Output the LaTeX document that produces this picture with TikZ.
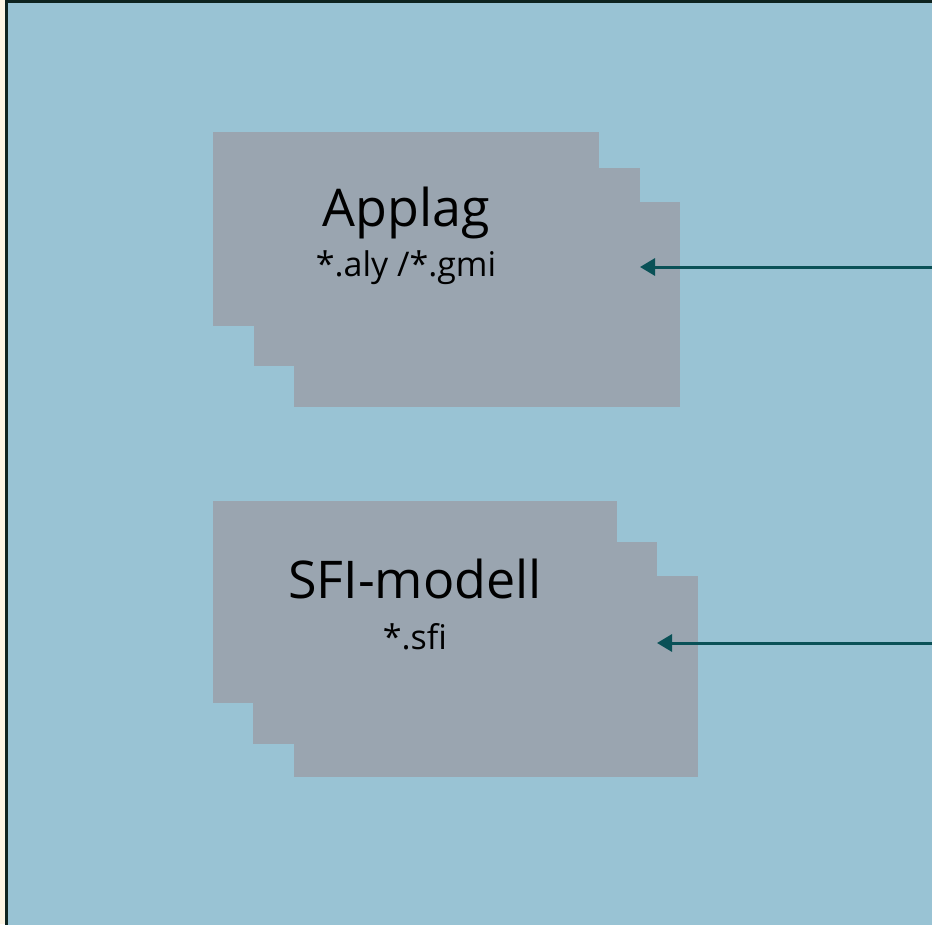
\documentclass[tikz,border=0pt]{standalone}
\usepackage{fontspec}
\setmainfont{Open Sans}
\usetikzlibrary{arrows.meta}
\definecolor{cream}{HTML}{FDF5E4}
\definecolor{bgblue}{HTML}{99C3D4}
\definecolor{framedark}{HTML}{0E2320}
\definecolor{boxgray}{HTML}{9AA5B0}
\definecolor{arrowteal}{HTML}{0A5157}
\begin{document}
\begin{tikzpicture}[x=1pt,y=-1pt,
  card/.style={fill=boxgray, draw=none, minimum width=386pt, minimum height=#1, inner sep=0pt, outer sep=0pt, anchor=north west},
  titletext/.style={font=\fontsize{52}{60}\selectfont, text=black, inner sep=0pt, anchor=base},
  subtext/.style={font=\fontsize{34}{40}\selectfont, text=black, inner sep=0pt, anchor=base},
  conn/.style={draw=arrowteal, line width=3pt, -{Triangle[length=15pt,width=17pt]}}]
\useasboundingbox (0,0) rectangle (932,924);
\fill[cream] (0,0) rectangle (932,924);
\draw[framedark, line width=3pt, fill=bgblue] (6.5,1.5) rectangle (1100,1100);
% Applag stack
\node[card=194pt] (applagA) at (213,132) {};
\node[card=198pt] (applagB) at (254,168) {};
\node[card=205pt] (applagC) at (294,202) {};
\node[titletext] (applagT) at (406,226) {Applag};
\node[subtext] (applagS) at (406,276) {*.aly /*.gmi};
% SFI stack
\node[card=202pt, minimum width=404pt] (sfiA) at (213,501) {};
\node[card=202pt, minimum width=404pt] (sfiB) at (253,542) {};
\node[card=201pt, minimum width=404pt] (sfiC) at (294,576) {};
\node[titletext] (sfiT) at (415,598) {SFI-modell};
\node[subtext] (sfiS) at (415,649) {*.sfi};
% connectors
\coordinate (in1) at (960,267);
\coordinate (in2) at (960,643);
\draw[conn] (in1) -- (applagB.east);
\draw[conn] (in2) -- (sfiB.east);
\end{tikzpicture}
\end{document}
